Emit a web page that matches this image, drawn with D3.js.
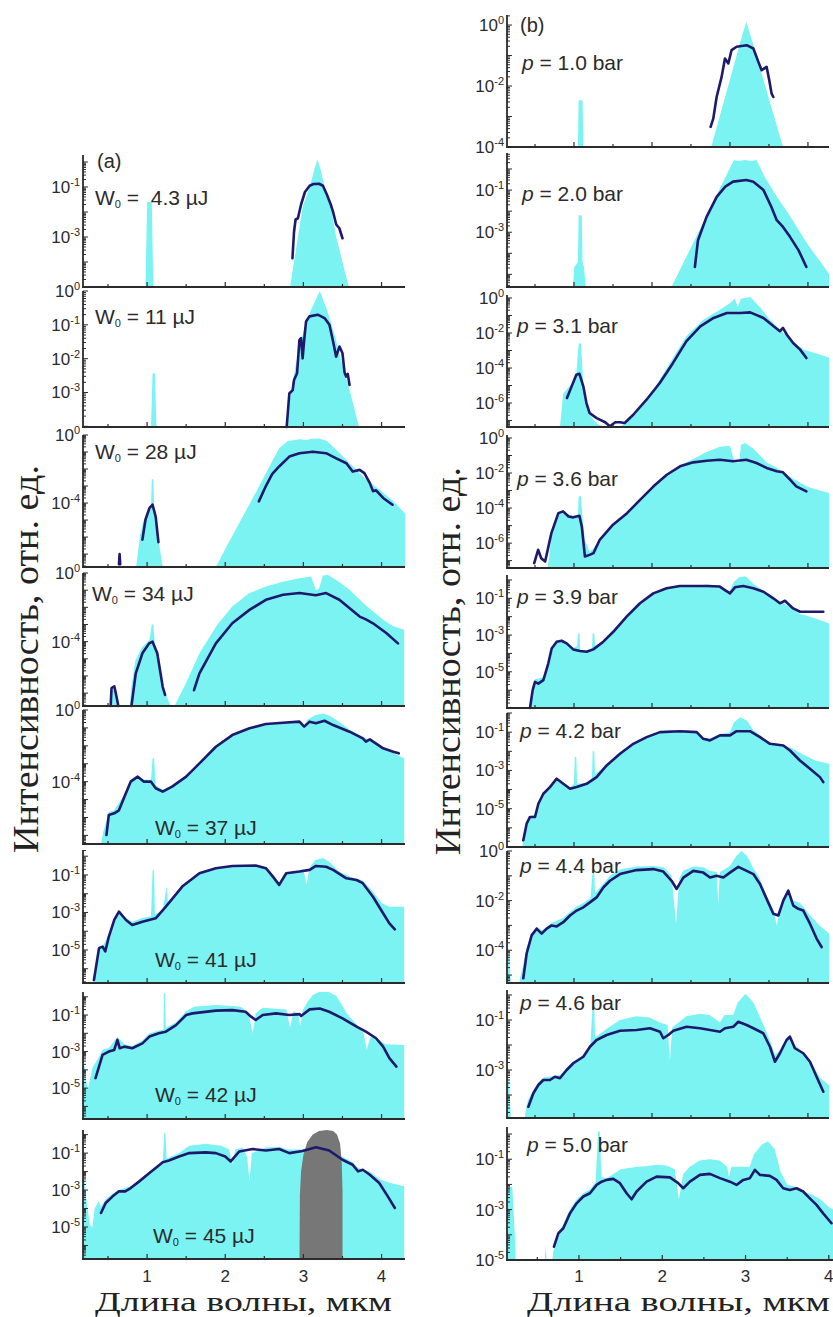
<!DOCTYPE html>
<html>
<head>
<meta charset="utf-8">
<script src="https://cdn.jsdelivr.net/npm/d3@7"></script>
<style>
  html, body { margin: 0; padding: 0; background: #fff; }
  svg { display: block; }
</style>
</head>
<body>
<svg id="chart" width="833" height="1317"></svg>
<script>
// Supercontinuum spectra: wavelength (µm) vs log10 of relative intensity.
// "fill" = simulated spectrum (cyan area), "line" = measured spectrum (dark curve).
// A value of -9 means "below the panel floor"; null breaks a line.

const energiesUJ = ['4.3', '11', '28', '34', '37', '41', '42', '45'];
const pressuresBar = ['1.0', '2.0', '3.1', '3.6', '3.9', '4.2', '4.4', '4.6', '5.0'];
const xTickLabels = [1, 2, 3, 4];

// ---------- column (a): pulse energy series ----------
const ticksA1 = [-1, -3];
const fillA1 = [[0.98,-9],[1.0,-1.6],[1.06,-1.6],[1.08,-9],[2.83,-9],[2.83,-5],[2.93,-3.0],[2.99,-1.8],[3.08,-1.0],[3.14,-0.3],[3.18,0.1],[3.22,-0.3],[3.27,-1.0],[3.35,-1.8],[3.42,-3.0],[3.58,-5],[3.6,-9]];
const lineA1 = [[2.86,-3.85],[2.88,-2.8],[2.9,-2.3],[2.93,-2.25],[2.97,-1.7],[3.02,-1.2],[3.08,-0.95],[3.13,-0.88],[3.2,-0.87],[3.25,-0.95],[3.3,-1.3],[3.35,-1.7],[3.38,-2.0],[3.42,-2.5],[3.46,-2.65],[3.5,-3.05]];

const ticksA2 = [0, -1, -2, -3];
const fillA2 = [[1.05,-9],[1.07,-2.43],[1.1,-2.43],[1.12,-9],[2.77,-9],[2.77,-4],[2.9,-2.2],[3.0,-1.2],[3.1,-0.55],[3.21,0],[3.3,-0.55],[3.4,-1.3],[3.5,-2.2],[3.6,-3.0],[3.71,-4.02],[3.72,-9]];
const lineA2 = [[2.786,-4.02],[2.82,-3.03],[2.863,-2.93],[2.88,-2.63],[2.919,-2.43],[2.949,-1.45],[2.97,-1.39],[2.99,-1.99],[3.01,-1.45],[3.034,-0.9],[3.077,-0.75],[3.184,-0.7],[3.27,-0.8],[3.333,-1.0],[3.376,-1.45],[3.419,-1.94],[3.462,-1.64],[3.5,-1.84],[3.526,-2.4],[3.547,-2.53],[3.568,-2.45],[3.59,-2.78]];

const ticksA3 = [0, -4];
const fillA3 = [[0.86,-9],[0.88,-7.0],[0.91,-5.9],[0.95,-5.1],[1.0,-4.6],[1.05,-4.2],[1.06,-2.6],[1.08,-2.6],[1.09,-4.2],[1.12,-5.2],[1.16,-6.6],[1.2,-9],[1.88,-9],[2.0,-6.7],[2.2,-5.0],[2.4,-3.3],[2.6,-1.55],[2.69,-0.78],[2.8,-0.35],[2.95,-0.25],[3.05,-0.3],[3.1,-0.22],[3.2,-0.2],[3.3,-0.35],[3.45,-1.0],[3.6,-1.7],[3.8,-2.6],[4.0,-3.3],[4.15,-3.9],[4.3,-4.6]];
const lineA3 = [[0.64,-7.6],[0.648,-7.0],[0.656,-7.6],null,[0.94,-6.15],[0.98,-4.97],[1.03,-4.3],[1.07,-4.1],[1.11,-4.8],[1.145,-6.3],null,[2.43,-3.9],[2.52,-3.0],[2.6,-2.3],[2.69,-1.85],[2.82,-1.27],[2.95,-1.07],[3.12,-0.98],[3.29,-1.07],[3.42,-1.37],[3.55,-1.66],[3.63,-2.15],[3.72,-2.05],[3.78,-2.24],[3.85,-2.83],[3.89,-3.3],[3.93,-3.25],[4.02,-3.7],[4.14,-4.1]];

const ticksA4 = [0, -4];
const fillA4 = [[0.53,-9],[0.545,-6.8],[0.6,-6.8],[0.63,-9],[0.78,-9],[0.8,-6.6],[0.85,-5.1],[0.94,-4.3],[1.03,-3.9],[1.06,-3.0],[1.08,-3.0],[1.1,-4.2],[1.15,-4.9],[1.2,-6.6],[1.3,-9],[1.35,-9],[1.5,-6.4],[1.67,-4.68],[1.9,-3.0],[2.09,-1.95],[2.3,-1.2],[2.52,-0.78],[2.75,-0.5],[2.95,-0.3],[3.1,-0.2],[3.16,-1.0],[3.2,-0.9],[3.25,-0.15],[3.31,-0.1],[3.45,-0.5],[3.59,-0.98],[3.8,-1.9],[4.02,-2.73],[4.15,-3.1],[4.29,-3.3]];
const lineA4 = [[0.534,-7.75],[0.545,-6.7],[0.58,-6.6],[0.6,-7.0],[0.632,-7.75],null,[0.8,-7.75],[0.855,-5.85],[0.94,-4.68],[1.026,-4.1],[1.07,-4.0],[1.13,-4.68],[1.2,-6.63],[1.23,-7.1],null,[1.6,-6.83],[1.67,-5.85],[1.88,-4.1],[2.09,-2.93],[2.31,-2.15],[2.52,-1.56],[2.74,-1.27],[2.95,-1.17],[3.16,-1.3],[3.29,-1.17],[3.46,-1.56],[3.72,-2.54],[3.8,-2.7],[3.89,-2.93],[4.06,-3.5],[4.21,-4.1]];

const ticksA5 = [0, -4];
const fillA5 = [[0.41,-9],[0.44,-6.8],[0.48,-6.2],[0.51,-5.7],[0.58,-5.6],[0.71,-4.7],[0.79,-3.9],[0.88,-3.65],[0.96,-3.9],[1.05,-3.9],[1.07,-2.7],[1.09,-2.7],[1.11,-4.2],[1.2,-4.45],[1.32,-4.2],[1.5,-3.65],[1.67,-2.95],[1.88,-2.05],[2.09,-1.45],[2.31,-1.05],[2.52,-0.82],[2.74,-0.72],[2.95,-0.62],[3.01,-0.85],[3.05,-0.55],[3.15,-0.3],[3.25,-0.19],[3.35,-0.35],[3.5,-0.8],[3.59,-1.1],[3.76,-1.5],[3.9,-1.8],[4.02,-2.1],[4.15,-2.4],[4.29,-2.7]];
const lineA5 = [[0.48,-6.98],[0.51,-5.86],[0.58,-5.77],[0.64,-5.6],[0.71,-4.84],[0.79,-4.0],[0.88,-3.72],[0.96,-4.0],[1.05,-4.0],[1.11,-4.37],[1.2,-4.56],[1.32,-4.28],[1.5,-3.72],[1.67,-2.98],[1.88,-2.05],[2.09,-1.4],[2.31,-1.02],[2.52,-0.78],[2.74,-0.71],[2.95,-0.65],[3.01,-0.93],[3.08,-0.65],[3.16,-0.74],[3.27,-0.6],[3.38,-0.84],[3.59,-1.21],[3.76,-1.58],[3.8,-1.77],[3.85,-1.64],[4.02,-2.14],[4.15,-2.33],[4.22,-2.42]];

const ticksA6 = [-1, -3, -5];
const fillA6 = [[0.31,-9],[0.32,-6.4],[0.385,-4.8],[0.43,-4.8],[0.51,-4.2],[0.58,-3.3],[0.64,-2.9],[0.73,-3.3],[0.81,-3.5],[0.94,-3.3],[1.05,-3.2],[1.07,-0.75],[1.09,-0.75],[1.1,-3.1],[1.2,-2.9],[1.25,-1.6],[1.27,-2.6],[1.45,-1.55],[1.67,-0.85],[1.88,-0.6],[2.09,-0.5],[2.39,-0.47],[2.52,-0.6],[2.61,-1.0],[2.69,-1.5],[2.78,-0.88],[2.95,-0.75],[3.0,-0.7],[3.04,-1.5],[3.08,-0.6],[3.15,-0.2],[3.25,-0.1],[3.33,-0.3],[3.45,-0.8],[3.6,-1.1],[3.76,-1.3],[3.89,-1.9],[4.0,-2.5],[4.1,-2.7],[4.29,-2.7]];
const lineA6 = [[0.32,-6.6],[0.385,-4.9],[0.43,-4.82],[0.465,-5.08],[0.51,-4.3],[0.58,-3.4],[0.64,-2.96],[0.73,-3.4],[0.81,-3.67],[0.94,-3.49],[1.11,-3.31],[1.24,-2.69],[1.45,-1.62],[1.67,-0.91],[1.88,-0.64],[2.09,-0.52],[2.39,-0.5],[2.52,-0.64],[2.61,-1.09],[2.69,-1.53],[2.78,-0.91],[2.95,-0.82],[3.08,-0.73],[3.16,-0.52],[3.29,-0.56],[3.38,-0.73],[3.55,-1.18],[3.68,-1.27],[3.76,-1.44],[3.89,-2.16],[4.02,-3.04],[4.1,-3.58],[4.17,-3.9]];

const ticksA7 = [-1, -3, -5];
const fillA7 = [[0.18,-3.7],[0.2,-3.8],[0.22,-4.6],[0.24,-5.1],[0.27,-4.5],[0.3,-3.9],[0.34,-3.6],[0.385,-3.3],[0.43,-2.9],[0.51,-2.8],[0.62,-2.2],[0.71,-2.6],[0.81,-2.7],[0.94,-2.4],[1.03,-2.0],[1.15,-1.85],[1.21,-1.8],[1.215,0.2],[1.23,0.2],[1.24,-1.7],[1.37,-1.4],[1.5,-0.8],[1.6,-0.55],[1.88,-0.45],[2.09,-0.5],[2.2,-0.55],[2.3,-0.9],[2.35,-2.0],[2.39,-0.9],[2.48,-0.6],[2.65,-0.65],[2.78,-0.7],[2.83,-1.7],[2.87,-0.8],[2.93,-0.9],[2.96,-1.6],[2.99,-0.75],[3.05,-0.3],[3.12,0.1],[3.2,0.27],[3.32,0.27],[3.42,0.05],[3.5,-0.5],[3.56,-0.95],[3.68,-1.5],[3.77,-2.0],[3.81,-2.9],[3.86,-2.2],[3.95,-2.3],[4.05,-2.6],[4.29,-2.64]];
const lineA7 = [[0.34,-4.45],[0.385,-3.82],[0.43,-3.18],[0.51,-3.0],[0.58,-2.91],[0.62,-2.36],[0.65,-2.82],[0.71,-2.73],[0.81,-2.82],[0.94,-2.55],[1.03,-2.18],[1.15,-2.0],[1.24,-1.91],[1.37,-1.55],[1.5,-1.0],[1.58,-0.91],[1.88,-0.76],[2.09,-0.73],[2.26,-0.82],[2.33,-1.09],[2.39,-1.27],[2.48,-1.0],[2.65,-0.91],[2.82,-1.0],[2.95,-0.95],[2.97,-1.05],[3.08,-0.69],[3.21,-0.64],[3.33,-0.82],[3.5,-1.18],[3.68,-1.64],[3.8,-1.91],[3.93,-2.27],[4.02,-2.73],[4.1,-3.36],[4.19,-3.82]];

const ticksA8 = [-1, -3, -5];
const fillA8 = [[0.18,-2.3],[0.2,-2.5],[0.23,-3.8],[0.27,-4.9],[0.3,-5.0],[0.33,-4.0],[0.38,-3.6],[0.41,-3.9],[0.47,-3.5],[0.56,-3.2],[0.64,-3.0],[0.79,-2.8],[0.9,-2.45],[1.03,-2.0],[1.11,-1.75],[1.2,-1.45],[1.22,0.1],[1.235,0.1],[1.25,-1.3],[1.41,-1.0],[1.54,-0.6],[1.75,-0.5],[1.95,-0.6],[2.05,-0.8],[2.09,-1.6],[2.13,-0.8],[2.22,-0.7],[2.28,-1.2],[2.31,-2.5],[2.34,-1.0],[2.52,-0.7],[2.69,-0.65],[2.8,-0.8],[2.95,-0.8],[3.16,-0.65],[3.33,-0.7],[3.5,-1.2],[3.63,-1.5],[3.7,-1.8],[3.85,-2.0],[3.97,-2.4],[4.1,-2.6],[4.29,-2.8]];
const pumpA8 = [[2.95,-9],[2.955,-3.3],[2.97,-2.0],[3.0,-1.1],[3.05,-0.4],[3.12,0.0],[3.2,0.2],[3.3,0.25],[3.38,0.2],[3.43,0.0],[3.47,-0.5],[3.49,-1.5],[3.5,-3.0],[3.5,-9]];
const lineA8 = [[0.41,-4.24],[0.47,-3.7],[0.56,-3.34],[0.64,-3.07],[0.72,-3.07],[0.79,-2.89],[0.9,-2.53],[1.03,-2.08],[1.11,-1.81],[1.2,-1.5],[1.28,-1.4],[1.41,-1.18],[1.54,-1.0],[1.75,-0.96],[1.88,-1.0],[2.0,-1.18],[2.07,-1.45],[2.18,-0.91],[2.35,-0.78],[2.52,-0.86],[2.69,-0.78],[2.82,-1.0],[2.99,-0.89],[3.16,-0.68],[3.33,-0.86],[3.5,-1.36],[3.63,-1.63],[3.7,-1.99],[3.76,-1.9],[3.85,-2.17],[3.97,-2.62],[4.08,-3.34],[4.17,-3.97]];

// ---------- column (b): gas pressure series ----------
const ticksB1 = [0, -2, -4];
const fillB1 = [[1.05,-9],[1.06,-2.47],[1.11,-2.47],[1.12,-9],[2.76,-9],[2.76,-4],[3.15,-0.4],[3.21,0.11],[3.27,-0.4],[3.68,-4],[3.69,-9]];
const lineB1 = [[2.752,-3.34],[2.786,-3.07],[2.829,-2.36],[2.893,-1.7],[2.936,-1.1],[2.979,-1.26],[3.021,-0.82],[3.085,-0.71],[3.214,-0.66],[3.3,-0.77],[3.363,-1.2],[3.406,-1.48],[3.47,-1.37],[3.504,-1.81],[3.534,-2.25],[3.556,-2.36]];

const ticksB2 = [-1, -3];
const fillB2 = [[0.98,-9],[0.99,-5.6],[1.0,-4.7],[1.05,-4.4],[1.06,-2.2],[1.1,-2.2],[1.11,-4.4],[1.13,-4.7],[1.15,-9],[2.25,-9],[2.25,-5.6],[2.6,-2.97],[2.9,-0.7],[3.05,0.43],[3.1,0.38],[3.2,0.43],[3.27,0.38],[3.34,0.43],[3.45,-0.4],[3.6,-1.3],[3.73,-2.0],[4.0,-3.6],[4.27,-4.97]];
const lineB2 = [[2.55,-4.65],[2.59,-3.38],[2.7,-2.27],[2.83,-1.32],[2.94,-0.84],[3.04,-0.6],[3.21,-0.52],[3.3,-0.6],[3.43,-1.0],[3.53,-1.79],[3.6,-2.43],[3.68,-2.75],[3.77,-3.22],[3.88,-3.86],[3.98,-4.65]];

const ticksB3 = [0, -2, -4, -6];
const fillB3 = [[0.81,-9],[0.82,-7.37],[0.86,-5.5],[0.91,-5.2],[0.97,-4.9],[1.03,-4.3],[1.06,-2.6],[1.09,-2.6],[1.12,-5.0],[1.16,-6.0],[1.2,-6.6],[1.25,-6.95],[1.3,-7.2],[1.4,-7.37],[1.59,-7.37],[1.8,-6.57],[2.02,-5.24],[2.23,-3.71],[2.44,-2.19],[2.66,-1.24],[2.87,-0.67],[3.0,-0.3],[3.06,-0.05],[3.1,-0.5],[3.14,-0.05],[3.26,0.05],[3.38,-0.5],[3.51,-1.24],[3.73,-2.19],[3.94,-2.95],[4.27,-3.4]];
const lineB3 = [[0.91,-5.71],[0.97,-5.05],[1.03,-4.38],[1.07,-4.33],[1.12,-5.05],[1.16,-6.0],[1.2,-6.57],[1.29,-6.86],[1.4,-7.1],[1.46,-7.33],[1.53,-7.1],[1.59,-7.1],[1.65,-7.14],[1.76,-6.67],[1.93,-5.81],[2.1,-4.86],[2.27,-3.71],[2.44,-2.48],[2.62,-1.62],[2.79,-1.14],[2.96,-0.86],[3.13,-0.86],[3.26,-0.82],[3.43,-1.14],[3.56,-1.62],[3.64,-1.9],[3.68,-1.71],[3.73,-2.1],[3.81,-2.57],[3.9,-2.95],[3.98,-3.43]];

const ticksB4 = [0, -2, -4, -6];
const fillB4 = [[0.66,-9],[0.68,-6.8],[0.71,-5.6],[0.76,-4.6],[0.82,-4.29],[0.9,-4.3],[0.99,-4.5],[1.05,-4.4],[1.06,-3.33],[1.09,-3.33],[1.11,-4.6],[1.14,-5.81],[1.2,-6.5],[1.25,-6.3],[1.33,-5.81],[1.5,-4.95],[1.68,-4.29],[1.85,-3.52],[2.02,-2.76],[2.19,-2.1],[2.36,-1.55],[2.53,-1.2],[2.7,-0.8],[2.87,-0.5],[3.0,-0.45],[3.06,-1.4],[3.12,-1.4],[3.14,-0.4],[3.19,-0.29],[3.3,-0.6],[3.47,-1.4],[3.6,-1.7],[3.8,-2.3],[4.0,-2.8],[4.27,-3.14]];
const lineB4 = [[0.49,-7.14],[0.54,-6.38],[0.58,-6.86],[0.63,-7.05],[0.71,-5.43],[0.8,-4.29],[0.86,-4.19],[0.93,-4.48],[0.99,-4.53],[1.07,-4.44],[1.1,-5.05],[1.14,-6.76],[1.2,-6.67],[1.25,-6.57],[1.33,-5.81],[1.5,-4.95],[1.68,-4.29],[1.85,-3.52],[2.02,-2.76],[2.19,-2.1],[2.36,-1.62],[2.53,-1.39],[2.7,-1.3],[2.87,-1.24],[3.04,-1.33],[3.21,-1.24],[3.34,-1.43],[3.47,-1.71],[3.6,-1.9],[3.68,-1.96],[3.77,-2.38],[3.85,-2.76],[3.98,-3.05]];

const ticksB5 = [-1, -3, -5];
const fillB5 = [[0.43,-9],[0.44,-6.5],[0.47,-5.8],[0.5,-5.4],[0.61,-5.3],[0.67,-4.5],[0.71,-3.7],[0.78,-3.3],[0.84,-3.25],[0.91,-3.4],[0.99,-3.7],[1.04,-3.6],[1.05,-2.9],[1.07,-2.9],[1.08,-3.8],[1.16,-3.85],[1.23,-3.7],[1.24,-2.9],[1.26,-2.9],[1.27,-3.6],[1.38,-3.3],[1.5,-2.8],[1.68,-1.98],[1.85,-1.27],[2.02,-0.73],[2.19,-0.45],[2.36,-0.33],[2.53,-0.33],[2.7,-0.25],[2.87,-0.3],[2.93,-0.5],[3.0,-0.6],[3.05,-0.1],[3.12,0.15],[3.2,0.2],[3.3,-0.2],[3.43,-0.6],[3.56,-1.0],[3.7,-1.3],[3.9,-1.85],[4.03,-2.0],[4.27,-2.36]];
const lineB5 = [[0.436,-6.97],[0.47,-6.0],[0.5,-5.55],[0.543,-5.64],[0.607,-5.45],[0.67,-4.55],[0.714,-3.73],[0.778,-3.36],[0.842,-3.31],[0.906,-3.45],[0.99,-3.78],[1.077,-3.87],[1.162,-3.91],[1.248,-3.78],[1.376,-3.36],[1.504,-2.82],[1.675,-2.0],[1.846,-1.27],[2.017,-0.73],[2.188,-0.45],[2.359,-0.33],[2.53,-0.33],[2.7,-0.33],[2.87,-0.36],[2.936,-0.55],[3.0,-0.73],[3.064,-0.4],[3.17,-0.33],[3.3,-0.45],[3.43,-0.64],[3.556,-1.0],[3.64,-1.27],[3.705,-1.13],[3.81,-1.55],[3.9,-1.73],[4.026,-1.73],[4.197,-1.73]];

const ticksB6 = [-1, -3, -5];
const fillB6 = [[0.34,-9],[0.35,-6.4],[0.39,-5.7],[0.44,-5.4],[0.5,-5.3],[0.54,-4.7],[0.61,-4.2],[0.69,-3.85],[0.78,-3.4],[0.86,-3.65],[0.95,-3.9],[1.0,-3.7],[1.01,-2.3],[1.03,-2.3],[1.04,-3.7],[1.16,-3.65],[1.23,-3.4],[1.24,-2.0],[1.26,-2.0],[1.27,-3.2],[1.42,-2.7],[1.59,-2.1],[1.76,-1.55],[1.93,-1.2],[2.1,-0.95],[2.36,-0.9],[2.57,-0.95],[2.65,-1.3],[2.74,-1.35],[2.87,-1.1],[3.0,-1.0],[3.05,-0.5],[3.13,-0.22],[3.22,-0.4],[3.3,-0.9],[3.4,-1.2],[3.51,-1.55],[3.68,-1.65],[3.8,-1.85],[3.95,-2.2],[4.1,-2.5],[4.27,-2.65]];
const lineB6 = [[0.35,-6.65],[0.393,-5.78],[0.436,-5.43],[0.5,-5.43],[0.543,-4.74],[0.607,-4.22],[0.692,-3.87],[0.778,-3.43],[0.863,-3.7],[0.949,-3.96],[1.034,-3.87],[1.162,-3.7],[1.29,-3.35],[1.419,-2.74],[1.59,-2.13],[1.761,-1.61],[1.932,-1.26],[2.103,-1.0],[2.359,-0.95],[2.573,-1.0],[2.658,-1.35],[2.744,-1.43],[2.872,-1.17],[3.0,-1.17],[3.085,-0.95],[3.256,-0.95],[3.385,-1.26],[3.513,-1.61],[3.684,-1.7],[3.77,-1.96],[3.897,-2.48],[4.026,-2.91],[4.154,-3.35],[4.197,-3.61]];

const ticksB7 = [0, -2, -4];
const fillB7 = [[0.15,-4.2],[0.17,-4.2],[0.19,-5.4],[0.2,-9],[0.3,-9],[0.31,-5.1],[0.35,-4.6],[0.39,-3.9],[0.46,-3.3],[0.52,-3.05],[0.59,-3.2],[0.71,-2.9],[0.86,-2.7],[0.95,-2.45],[1.03,-2.25],[1.12,-2.1],[1.21,-1.9],[1.24,-0.8],[1.26,-0.8],[1.27,-1.7],[1.38,-1.3],[1.46,-1.0],[1.59,-0.75],[1.8,-0.62],[2.02,-0.6],[2.15,-0.65],[2.25,-1.0],[2.31,-2.9],[2.35,-1.1],[2.4,-0.8],[2.53,-0.62],[2.66,-0.65],[2.74,-0.8],[2.83,-0.85],[2.85,-2.1],[2.87,-0.85],[3.0,-0.6],[3.08,-0.2],[3.15,0.08],[3.22,-0.2],[3.3,-0.7],[3.38,-1.1],[3.47,-1.8],[3.56,-2.4],[3.6,-3.0],[3.64,-2.4],[3.68,-1.9],[3.75,-1.5],[3.81,-2.0],[3.9,-2.1],[4.03,-2.6],[4.15,-3.0],[4.27,-3.33]];
const lineB7 = [[0.35,-5.13],[0.393,-4.13],[0.457,-3.4],[0.521,-3.13],[0.585,-3.33],[0.65,-3.13],[0.714,-3.0],[0.778,-3.04],[0.863,-2.87],[0.949,-2.6],[1.034,-2.4],[1.12,-2.27],[1.205,-2.07],[1.29,-1.87],[1.376,-1.47],[1.462,-1.2],[1.59,-0.93],[1.803,-0.77],[2.017,-0.73],[2.145,-0.83],[2.252,-1.2],[2.316,-1.53],[2.402,-1.07],[2.53,-0.8],[2.658,-0.87],[2.744,-1.07],[2.829,-1.0],[2.915,-1.07],[3.0,-0.87],[3.107,-0.64],[3.214,-0.8],[3.3,-0.93],[3.385,-1.33],[3.47,-1.93],[3.556,-2.53],[3.62,-2.6],[3.684,-2.0],[3.748,-1.6],[3.812,-2.2],[3.876,-2.33],[3.94,-2.4],[4.026,-2.93],[4.111,-3.53],[4.175,-3.87]];

const ticksB8 = [-1, -3];
const fillB8 = [[0.15,-3.4],[0.17,-3.4],[0.19,-5.0],[0.2,-9],[0.37,-9],[0.38,-4.6],[0.41,-4.2],[0.48,-3.8],[0.54,-3.5],[0.61,-3.3],[0.82,-3.2],[0.91,-2.9],[0.99,-2.65],[1.12,-2.4],[1.21,-2.0],[1.24,-0.3],[1.26,-0.3],[1.27,-1.7],[1.42,-1.35],[1.59,-1.0],[1.8,-0.85],[1.97,-0.9],[2.1,-1.1],[2.2,-1.2],[2.23,-2.6],[2.26,-1.3],[2.44,-0.85],[2.62,-0.75],[2.74,-0.8],[2.87,-1.1],[2.93,-0.8],[3.04,-0.8],[3.1,-0.3],[3.2,0.05],[3.3,-0.3],[3.43,-1.2],[3.51,-1.8],[3.58,-2.4],[3.64,-2.2],[3.73,-1.7],[3.77,-1.6],[3.83,-2.0],[3.94,-2.3],[4.03,-2.6],[4.15,-3.3],[4.27,-3.6]];
const lineB8 = [[0.415,-4.47],[0.479,-3.93],[0.543,-3.6],[0.607,-3.4],[0.692,-3.4],[0.756,-3.27],[0.82,-3.33],[0.906,-3.0],[0.991,-2.73],[1.12,-2.47],[1.205,-2.07],[1.29,-1.8],[1.419,-1.6],[1.59,-1.43],[1.803,-1.4],[1.974,-1.33],[2.103,-1.47],[2.145,-1.73],[2.209,-1.6],[2.274,-1.43],[2.444,-1.27],[2.615,-1.33],[2.744,-1.4],[2.872,-1.47],[2.936,-1.33],[3.043,-1.27],[3.107,-1.07],[3.214,-1.2],[3.3,-1.33],[3.427,-1.53],[3.513,-2.07],[3.577,-2.67],[3.641,-2.33],[3.726,-1.8],[3.769,-1.67],[3.833,-2.13],[3.94,-2.33],[4.026,-2.67],[4.111,-3.27],[4.197,-3.87]];

const ticksB9 = [-1, -3, -5];
const fillB9 = [[0.14,-2.1],[0.2,-2.1],[0.23,-4.0],[0.24,-9],[0.59,-9],[0.6,-4.4],[0.61,-9],[0.68,-9],[0.69,-4.7],[0.75,-3.9],[0.81,-3.6],[0.89,-3.0],[0.97,-2.6],[1.05,-2.35],[1.13,-2.2],[1.2,-1.9],[1.23,0.1],[1.25,0.1],[1.27,-1.7],[1.33,-1.75],[1.41,-1.6],[1.5,-1.4],[1.6,-1.35],[1.7,-1.3],[1.8,-1.28],[1.93,-1.22],[2.05,-1.25],[2.15,-1.4],[2.2,-2.6],[2.25,-1.6],[2.33,-1.3],[2.45,-1.05],[2.57,-1.0],[2.69,-1.05],[2.78,-1.3],[2.8,-1.7],[2.83,-1.3],[2.95,-1.3],[3.05,-1.3],[3.1,-0.8],[3.2,-0.4],[3.27,-0.3],[3.35,-0.6],[3.42,-1.5],[3.5,-2.0],[3.6,-2.1],[3.7,-2.3],[3.8,-2.4],[3.9,-2.6],[4.0,-2.9],[4.05,-3.0]];
const lineB9 = [[0.70,-4.47],[0.752,-3.94],[0.812,-3.74],[0.892,-3.15],[0.972,-2.75],[1.052,-2.48],[1.132,-2.35],[1.212,-2.02],[1.272,-1.89],[1.332,-1.82],[1.412,-1.78],[1.492,-1.95],[1.572,-2.35],[1.632,-2.59],[1.692,-2.28],[1.812,-1.89],[1.932,-1.69],[2.092,-1.72],[2.192,-1.95],[2.252,-2.15],[2.332,-1.89],[2.452,-1.62],[2.572,-1.58],[2.692,-1.75],[2.812,-1.89],[2.892,-2.02],[2.972,-1.82],[3.052,-1.75],[3.112,-1.42],[3.172,-1.62],[3.292,-1.66],[3.372,-1.82],[3.452,-2.15],[3.532,-2.22],[3.612,-2.15],[3.692,-2.28],[3.772,-2.55],[3.852,-2.81],[3.932,-3.15],[4.032,-3.54]];

// ---------- layout ----------
const COLORS = { fill: '#7cf3f3', line: '#1d1a6c', pump: '#777777', axis: '#2b2b2b', text: '#2b2b2b' };
const SANS = 'Liberation Sans, Arial, Helvetica, sans-serif';
const SERIF = 'Liberation Serif, Times New Roman, serif';

const columns = {
  a:  { x0: 83,  x1: 405, dom: [0.18, 4.3] },
  b:  { x0: 507, x1: 829, dom: [0.141, 4.27] },
  b9: { x0: 507, x1: 833, dom: [0.136, 4.05] }
};

const panels = [
  { col: 'a', top: 155,  bottom: 287,  dom: [-5, 0.28],    ticks: ticksA1, fill: fillA1, line: lineA1, label: { kind: 'W', v: energiesUJ[0], x: 95,  y: 205, wide: true } },
  { col: 'a', top: 291,  bottom: 427,  dom: [-4.02, 0],    ticks: ticksA2, fill: fillA2, line: lineA2, label: { kind: 'W', v: energiesUJ[1], x: 95,  y: 324 } },
  { col: 'a', top: 435,  bottom: 567,  dom: [-7.76, 0],    ticks: ticksA3, fill: fillA3, line: lineA3, label: { kind: 'W', v: energiesUJ[2], x: 95,  y: 459 } },
  { col: 'a', top: 573,  bottom: 706,  dom: [-7.75, 0],    ticks: ticksA4, fill: fillA4, line: lineA4, label: { kind: 'W', v: energiesUJ[3], x: 92,  y: 601 } },
  { col: 'a', top: 710,  bottom: 844,  dom: [-7.48, 0],    ticks: ticksA5, fill: fillA5, line: lineA5, label: { kind: 'W', v: energiesUJ[4], x: 155, y: 835 } },
  { col: 'a', top: 850,  bottom: 983,  dom: [-6.76, 0.33], ticks: ticksA6, fill: fillA6, line: lineA6, label: { kind: 'W', v: energiesUJ[5], x: 155, y: 967 } },
  { col: 'a', top: 992,  bottom: 1119, dom: [-6.69, 0.26], ticks: ticksA7, fill: fillA7, line: lineA7, label: { kind: 'W', v: energiesUJ[6], x: 155, y: 1102 } },
  { col: 'a', top: 1130, bottom: 1259, dom: [-6.73, 0.25], ticks: ticksA8, fill: fillA8, line: lineA8, pump: pumpA8, xLabels: true, label: { kind: 'W', v: energiesUJ[7], x: 153, y: 1243 } },

  { col: 'b',  top: 15,   bottom: 147,  dom: [-4, 0.33],    ticks: ticksB1, fill: fillB1, line: lineB1, label: { kind: 'p', v: pressuresBar[0], x: 522, y: 70 } },
  { col: 'b',  top: 153,  bottom: 287,  dom: [-5.6, 0.76],  ticks: ticksB2, fill: fillB2, line: lineB2, label: { kind: 'p', v: pressuresBar[1], x: 522, y: 201 } },
  { col: 'b',  top: 295,  bottom: 427,  dom: [-7.37, 0.17], ticks: ticksB3, fill: fillB3, line: lineB3, label: { kind: 'p', v: pressuresBar[2], x: 517, y: 333 } },
  { col: 'b',  top: 435,  bottom: 568,  dom: [-7.42, 0.17], ticks: ticksB4, fill: fillB4, line: lineB4, label: { kind: 'p', v: pressuresBar[3], x: 517, y: 486 } },
  { col: 'b',  top: 575,  bottom: 708,  dom: [-6.97, 0.27], ticks: ticksB5, fill: fillB5, line: lineB5, label: { kind: 'p', v: pressuresBar[4], x: 517, y: 604 } },
  { col: 'b',  top: 713,  bottom: 847,  dom: [-7.0, 0.0],   ticks: ticksB6, fill: fillB6, line: lineB6, label: { kind: 'p', v: pressuresBar[5], x: 520, y: 738 } },
  { col: 'b',  top: 851,  bottom: 983,  dom: [-5.32, 0],    ticks: ticksB7, fill: fillB7, line: lineB7, label: { kind: 'p', v: pressuresBar[6], x: 520, y: 873 } },
  { col: 'b',  top: 990,  bottom: 1118, dom: [-4.92, 0.2],  ticks: ticksB8, fill: fillB8, line: lineB8, label: { kind: 'p', v: pressuresBar[7], x: 520, y: 1010 } },
  { col: 'b9', top: 1127, bottom: 1260, dom: [-5, 0.28],    ticks: ticksB9, fill: fillB9, line: lineB9, xLabels: true, label: { kind: 'p', v: pressuresBar[8], x: 527, y: 1152 } }
];

const svg = d3.select('#chart');
svg.append('rect').attr('width', 833).attr('height', 1317).attr('fill', '#fff');

const gPlots = svg.append('g');
const gAxes = svg.append('g');
const gText = svg.append('g');

panels.forEach((p) => {
  const c = columns[p.col];
  const x = d3.scaleLinear().domain(c.dom).range([c.x0, c.x1]).clamp(true);
  const y = d3.scaleLog().domain([10 ** p.dom[0], 10 ** p.dom[1]]).range([p.bottom, p.top]).clamp(true);

  const area = d3.area()
    .x(d => x(d[0]))
    .y0(p.bottom)
    .y1(d => y(10 ** d[1]));

  gPlots.append('path').datum(p.fill)
    .attr('d', area)
    .attr('fill', COLORS.fill);

  if (p.pump) {
    gPlots.append('path').datum(p.pump)
      .attr('d', area)
      .attr('fill', COLORS.pump);
  }

  const line = d3.line()
    .defined(d => d !== null)
    .x(d => x(d[0]))
    .y(d => y(10 ** d[1]));

  gPlots.append('path').datum(p.line)
    .attr('d', line)
    .attr('fill', 'none')
    .attr('stroke', COLORS.line)
    .attr('stroke-width', 2.6)
    .attr('stroke-linejoin', 'round')
    .attr('stroke-linecap', 'round');

  // axis lines
  gAxes.append('line')
    .attr('x1', c.x0).attr('x2', c.x0).attr('y1', p.top).attr('y2', p.bottom)
    .attr('stroke', COLORS.axis).attr('stroke-width', 1.8);
  gAxes.append('line')
    .attr('x1', c.x0 - 1).attr('x2', c.x1).attr('y1', p.bottom).attr('y2', p.bottom)
    .attr('stroke', COLORS.axis).attr('stroke-width', 1.8);

  // logarithmic ticks (decades long, 2..9 short)
  for (let k = Math.floor(p.dom[0]); k <= Math.ceil(p.dom[1]); k++) {
    for (let m = 1; m <= 9; m++) {
      const e = k + Math.log10(m);
      if (e < p.dom[0] || e > p.dom[1]) continue;
      const yy = y(10 ** e);
      gAxes.append('line')
        .attr('x1', c.x0).attr('x2', c.x0 + (m === 1 ? 5 : 3))
        .attr('y1', yy).attr('y2', yy)
        .attr('stroke', COLORS.axis).attr('stroke-width', 1);
    }
  }

  // wavelength ticks every 0.5 µm
  d3.range(0.5, 4.01, 0.5).forEach(v => {
    if (v < c.dom[0] || v > c.dom[1]) return;
    const xx = x(v);
    gAxes.append('line')
      .attr('x1', xx).attr('x2', xx)
      .attr('y1', p.bottom).attr('y2', p.bottom - (Number.isInteger(v) ? 5 : 3))
      .attr('stroke', COLORS.axis).attr('stroke-width', 1.2);
  });

  // decade labels
  p.ticks.forEach(e => {
    const t = gText.append('text')
      .attr('x', c.x0 - 3)
      .attr('y', y(10 ** e) + 6)
      .attr('text-anchor', 'end')
      .attr('font-family', SANS)
      .attr('font-size', 17)
      .attr('fill', COLORS.text);
    t.append('tspan').text('10');
    t.append('tspan').attr('dy', -7).attr('font-size', 11).text(String(e));
  });

  // wavelength labels on the bottom panels
  if (p.xLabels) {
    xTickLabels.forEach(v => {
      gText.append('text')
        .attr('x', x(v))
        .attr('y', 1282)
        .attr('text-anchor', 'middle')
        .attr('font-family', SANS)
        .attr('font-size', 17)
        .attr('fill', COLORS.text)
        .text(v);
    });
  }

  // panel annotation
  const L = p.label;
  const t = gText.append('text')
    .attr('x', L.x).attr('y', L.y)
    .attr('font-family', SANS)
    .attr('font-size', 21)
    .attr('fill', COLORS.text)
    .style('white-space', 'pre');
  if (L.kind === 'W') {
    t.append('tspan').text('W');
    t.append('tspan').attr('font-size', 11).attr('dy', 3).text('0');
    t.append('tspan').attr('dy', -3).text((L.wide ? ' =  ' : ' = ') + L.v + ' \u00B5J');
  } else {
    t.append('tspan').attr('font-style', 'italic').text('p');
    t.append('tspan').text(' = ' + L.v + ' bar');
  }
});

// column tags
gText.append('text').attr('x', 97).attr('y', 168)
  .attr('font-family', SANS).attr('font-size', 20).attr('fill', COLORS.text).text('(a)');
gText.append('text').attr('x', 520).attr('y', 32)
  .attr('font-family', SANS).attr('font-size', 20).attr('fill', COLORS.text).text('(b)');

// axis titles
[{ x: 38, y: 853 }, { x: 460, y: 855 }].forEach(pos => {
  gText.append('text')
    .attr('transform', `translate(${pos.x},${pos.y}) rotate(-90)`)
    .attr('font-family', SERIF)
    .attr('font-size', 35)
    .attr('fill', '#222')
    .attr('textLength', 388)
    .attr('lengthAdjust', 'spacingAndGlyphs')
    .text('Интенсивность, отн. ед.');
});
[{ x: 95, y: 1311, w: 297 }, { x: 527, y: 1311, w: 303 }].forEach(pos => {
  gText.append('text')
    .attr('x', pos.x).attr('y', pos.y)
    .attr('font-family', SERIF)
    .attr('font-size', 28)
    .attr('fill', '#222')
    .attr('textLength', pos.w)
    .attr('lengthAdjust', 'spacingAndGlyphs')
    .text('Длина волны, мкм');
});
</script>
</body>
</html>
